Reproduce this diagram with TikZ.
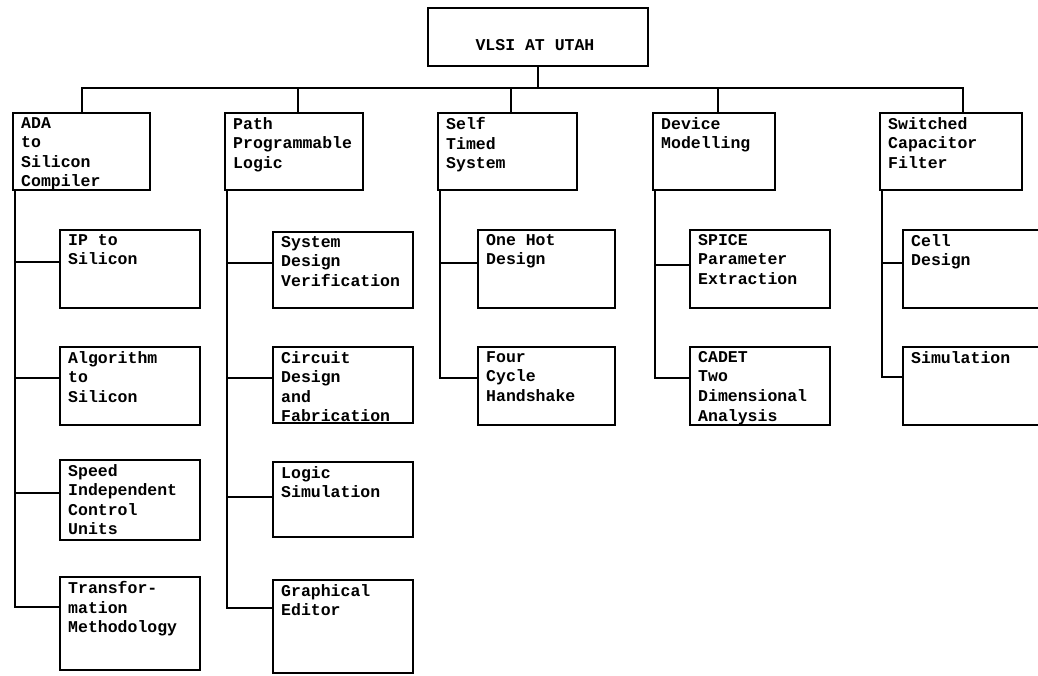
\documentclass[tikz,border=0pt]{standalone}
\usepackage{fontspec}
\newfontfamily\typewriter{Liberation Mono}
\tikzset{
  box/.style={draw, line width=2pt, inner sep=0pt, outer sep=0pt,
              anchor=north west, minimum width=140pt},
  lettering/.style={font=\typewriter\bfseries\fontsize{16.5}{19.6}\selectfont},
  caption/.style={lettering, anchor=north west, inner sep=0pt, align=left,
                  xshift=8pt, yshift=-4pt},
  wire/.style={line width=2pt},
}

\begin{document}
\begin{tikzpicture}[x=1pt, y=-1pt]
  \useasboundingbox (0,0) rectangle (1038,675);

  % root
  \node[box, minimum width=220pt, minimum height=58pt] (utah) at (428,8) {};
  \node[lettering, anchor=base] at ([xshift=-3pt, yshift=-13pt]utah.center) {VLSI AT UTAH};

  % first level
  \node[box, minimum width=137pt, minimum height=77pt] (ada) at (13,113) {};
  \node[caption] at (ada.north west) {ADA\\to\\Silicon\\Compiler};
  \node[box, minimum width=138pt, minimum height=77pt] (ppl) at (225,113) {};
  \node[caption] at (ppl.north west) {Path\\Programmable\\Logic};
  \node[box, minimum width=139pt, minimum height=77pt] (sts) at (438,113) {};
  \node[caption] at (sts.north west) {Self\\Timed\\System};
  \node[box, minimum width=122pt, minimum height=77pt] (dev) at (653,113) {};
  \node[caption] at (dev.north west) {Device\\Modelling};
  \node[box, minimum width=142pt, minimum height=77pt] (scf) at (880,113) {};
  \node[caption] at (scf.north west) {Switched\\Capacitor\\Filter};

  % bus
  \coordinate (bus) at (0,88);
  \draw[wire] (utah.south) -- (utah.south |- bus);
  \draw[wire] (ada.north) |- ([xshift=12pt]scf.north |- bus) -- ([xshift=12pt]scf.north);
  \draw[wire] ([xshift=4pt]ppl.north) -- ([xshift=4pt]ppl.north |- bus);
  \draw[wire] ([xshift=3.5pt]sts.north) -- ([xshift=3.5pt]sts.north |- bus);
  \draw[wire] ([xshift=4pt]dev.north) -- ([xshift=4pt]dev.north |- bus);

  % ADA column
  \node[box, minimum height=78pt] (ada1) at (60,230) {};
  \node[caption] at (ada1.north west) {IP to\\Silicon};
  \node[box, minimum height=78pt] (ada2) at (60,347) {};
  \node[caption] at (ada2.north west) {Algorithm\\to\\Silicon};
  \node[box, minimum height=80pt] (ada3) at (60,460) {};
  \node[caption] at (ada3.north west) {Speed\\Independent\\Control\\Units};
  \node[box, minimum height=93pt] (ada4) at (60,577) {};
  \node[caption] at (ada4.north west) {Transfor-\\mation\\Methodology};
  \draw[wire] ([xshift=2pt]ada.south west) |- ([yshift=-32pt]ada1.north west);
  \draw[wire] ([xshift=2pt]ada.south west) |- ([yshift=-31pt]ada2.north west);
  \draw[wire] ([xshift=2pt]ada.south west) |- ([yshift=-33pt]ada3.north west);
  \draw[wire] ([xshift=2pt]ada.south west) |- ([yshift=-30pt]ada4.north west);

  % PPL column
  \node[box, minimum height=76pt] (ppl1) at (273,232) {};
  \node[caption] at (ppl1.north west) {System\\Design\\Verification};
  \node[box, minimum height=76pt] (ppl2) at (273,347) {};
  \node[caption] at (ppl2.north west) {Circuit\\Design\\and\\Fabrication};
  \node[box, minimum height=75pt] (ppl3) at (273,462) {};
  \node[caption] at (ppl3.north west) {Logic\\Simulation};
  \node[box, minimum height=93pt] (ppl4) at (273,580) {};
  \node[caption] at (ppl4.north west) {Graphical\\Editor};
  \draw[wire] ([xshift=2pt]ppl.south west) |- ([yshift=-31pt]ppl1.north west);
  \draw[wire] ([xshift=2pt]ppl.south west) |- ([yshift=-31pt]ppl2.north west);
  \draw[wire] ([xshift=2pt]ppl.south west) |- ([yshift=-35pt]ppl3.north west);
  \draw[wire] ([xshift=2pt]ppl.south west) |- ([yshift=-28pt]ppl4.north west);

  % self timed column
  \node[box, minimum width=137pt, minimum height=78pt] (sts1) at (478,230) {};
  \node[caption] at (sts1.north west) {One Hot\\Design};
  \node[box, minimum width=137pt, minimum height=78pt] (sts2) at (478,347) {};
  \node[caption] at (sts2.north west) {Four\\Cycle\\Handshake};
  \draw[wire] ([xshift=2pt]sts.south west) |- ([yshift=-33pt]sts1.north west);
  \draw[wire] ([xshift=2pt]sts.south west) |- ([yshift=-31pt]sts2.north west);

  % device column
  \node[box, minimum height=78pt] (dev1) at (690,230) {};
  \node[caption] at (dev1.north west) {SPICE\\Parameter\\Extraction};
  \node[box, minimum height=78pt] (dev2) at (690,347) {};
  \node[caption] at (dev2.north west) {CADET\\Two\\Dimensional\\Analysis};
  \draw[wire] ([xshift=2pt]dev.south west) |- ([yshift=-35pt]dev1.north west);
  \draw[wire] ([xshift=2pt]dev.south west) |- ([yshift=-31pt]dev2.north west);

  % filter column
  \node[box, minimum height=78pt] (scf1) at (903,230) {};
  \node[caption] at (scf1.north west) {Cell\\Design};
  \node[box, minimum height=78pt] (scf2) at (903,347) {};
  \node[caption] at (scf2.north west) {Simulation};
  \draw[wire] ([xshift=2pt]scf.south west) |- ([yshift=-33pt]scf1.north west);
  \draw[wire] ([xshift=2pt]scf.south west) |- ([yshift=-30pt]scf2.north west);
\end{tikzpicture}
\end{document}
